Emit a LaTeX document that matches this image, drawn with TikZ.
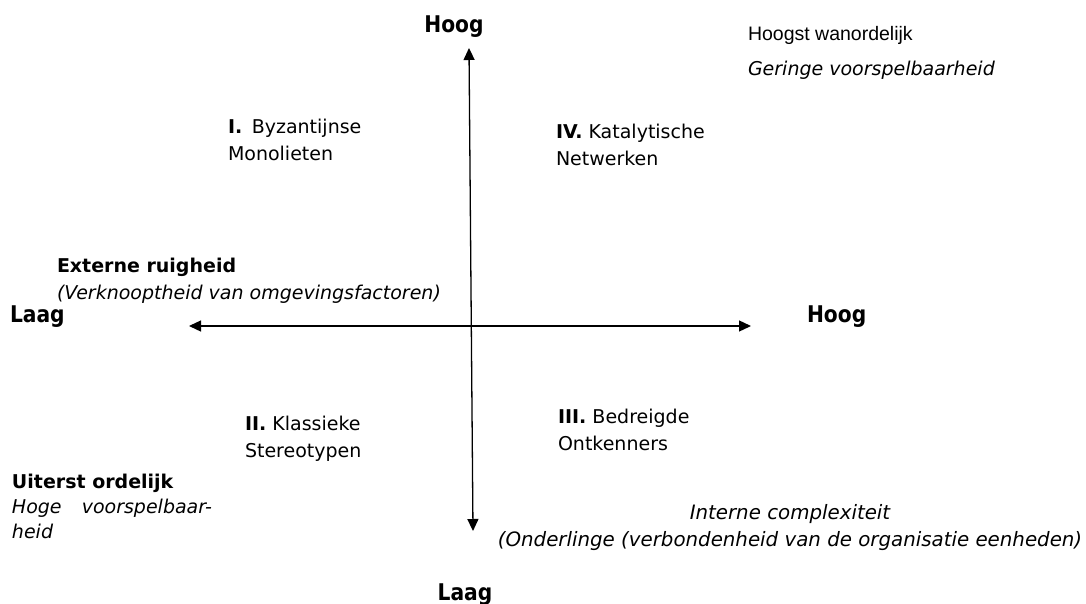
\documentclass[tikz,border=0pt]{standalone}
\usepackage{fontspec}
\setmainfont{DejaVu Sans}
\newfontfamily\axisfont{DejaVu Sans}[FakeStretch=0.88]
\newfontfamily\arialfont{Liberation Sans}
\usetikzlibrary{arrows.meta,positioning}

\begin{document}
\begin{tikzpicture}[
  x=1pt, y=-1pt,
  >={Triangle[length=12pt,width=11pt]},
  every node/.style={inner sep=0pt, outer sep=0pt},
  axislbl/.style={font=\axisfont\fontsize{23}{28}\selectfont\bfseries, anchor=base},
  quadrant/.style={font=\fontsize{19}{27}\selectfont, align=left,
              anchor=base west},
  dimlbl/.style={font=\fontsize{19.8}{27}\selectfont\itshape, align=center,
              anchor=base},
  axis/.style={<->, line width=1.3pt},
]
\useasboundingbox (0,0) rectangle (1086,604);

% Axes
\coordinate (vtop) at (469,48);
\coordinate (vbot) at (473,531);
\coordinate (hleft) at (189,326);
\coordinate (hright) at (751,326);
\draw[axis] (vbot) -- (vtop);
\draw[axis] (hleft) -- (hright);

% Axis ends
\node[axislbl] (hoogN) at (454,33) {Hoog};
\node[axislbl] (laagS) at (465,600) {Laag};
\node[axislbl, anchor=base west] (laagW) at (10,322) {Laag};
\node[axislbl, anchor=base west] (hoogE) at (807,322) {Hoog};

% Quadrants (base = last line)
\node[quadrant] (q1) at (228,161) {\textbf{I.}\enspace Byzantijnse\\Monolieten};
\node[quadrant] (q4) at (556,166) {\textbf{IV.} Katalytische\\Netwerken};
\node[quadrant] (q2) at (245,457) {\textbf{II.} Klassieke\\Stereotypen};
\node[quadrant] (q3) at (558,450) {\textbf{III.} Bedreigde\\Ontkenners};

% Extremes
\node[anchor=base west, font=\arialfont\fontsize{19.5}{23}\selectfont]
  (wanorde) at (748,41) {Hoogst wanordelijk};
\node[quadrant, font=\fontsize{19}{27}\selectfont\itshape]
  (gering) at (748,76) {Geringe voorspelbaarheid};
\node[quadrant, font=\fontsize{19}{25}\selectfont] (orde) at (12,538)
  {\textbf{Uiterst ordelijk}\\
   \makebox[200pt][l]{\itshape Hoge\hfill voorspelbaar-}\\
   \textit{heid}};

% Dimensions
\node[quadrant] (extern) at (57,299)
  {\textbf{Externe ruigheid}\\\textit{(Verknooptheid van omgevingsfactoren)}};
\node[dimlbl] (intern) at (790,546)
  {Interne complexiteit\\(Onderlinge (verbondenheid van de organisatie eenheden)};

\end{tikzpicture}
\end{document}
